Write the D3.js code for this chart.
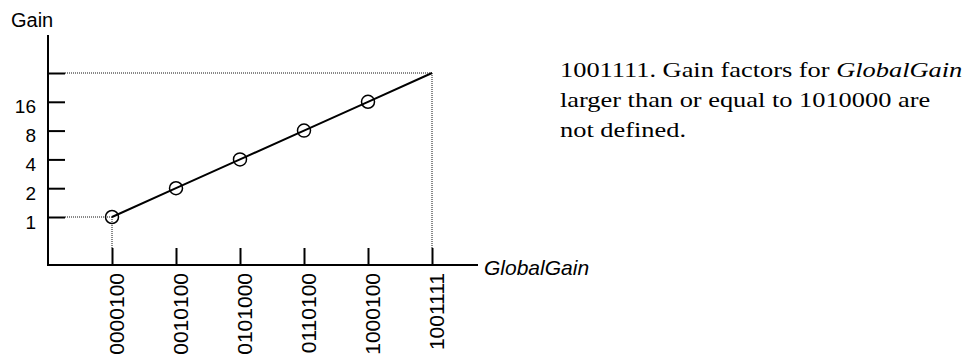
<!DOCTYPE html>
<html>
<head>
<meta charset="utf-8">
<script src="https://cdn.jsdelivr.net/npm/d3@7/dist/d3.min.js"></script>
<style>
  html, body { margin: 0; padding: 0; background: #fff; }
  svg { display: block; }
</style>
</head>
<body>
<svg id="chart" width="971" height="358"></svg>
<script>
// GlobalGain codes along the horizontal axis
const globalGainCodes = ["0000100", "0010100", "0101000", "0110100", "1000100", "1001111"];
// Gain factor reached at each code (log2 axis)
const gainValues = [1, 2, 4, 8, 16, 32];
// Codes drawn with an open circle marker
const markedCodes = ["0000100", "0010100", "0101000", "0110100", "1000100"];
// Vertical axis ticks and their labels
const gainTicks = [1, 2, 4, 8, 16, 32];
const gainTickLabels = ["1", "2", "4", "8", "16", ""];
// Side note
const noteLines = [
  [{ t: "1001111. Gain factors for " }, { t: "GlobalGain", italic: true }],
  [{ t: "larger than or equal to 1010000 are" }],
  [{ t: "not defined." }]
];

const points = globalGainCodes.map((c, i) => ({ code: c, gain: gainValues[i] }));

const svg = d3.select("#chart");
const sans = "'Liberation Sans', Arial, sans-serif";
const serif = "'Liberation Serif', 'Times New Roman', serif";

const axisX = 48, axisY = 265, axisTop = 35, axisRight = 478;

const x = d3.scalePoint().domain(globalGainCodes).range([112, 432]);
const y = d3.scaleLog().base(2).domain([1, 32]).range([217, 73]);

// Dotted guide lines
const guide = svg.append("g")
  .attr("stroke", "#111").attr("stroke-width", 1).attr("stroke-dasharray", "1,1").attr("fill", "none");
const first = points[0], last = points[points.length - 1];
guide.append("line").attr("x1", axisX + 17).attr("x2", x(first.code)).attr("y1", y(first.gain)).attr("y2", y(first.gain));
guide.append("line").attr("x1", x(first.code)).attr("x2", x(first.code)).attr("y1", y(first.gain)).attr("y2", axisY - 17);
guide.append("line").attr("x1", axisX + 17).attr("x2", x(last.code)).attr("y1", y(last.gain)).attr("y2", y(last.gain));
guide.append("line").attr("x1", x(last.code)).attr("x2", x(last.code)).attr("y1", y(last.gain)).attr("y2", axisY - 17);

// Y axis
const yAxis = svg.append("g")
  .attr("transform", `translate(${axisX},0)`)
  .call(d3.axisLeft(y).tickValues(gainTicks).tickFormat((d, i) => gainTickLabels[i]).tickSize(-17).tickPadding(12));
yAxis.select(".domain").remove();
yAxis.selectAll(".tick line").attr("stroke", "#000").attr("stroke-width", 2);
yAxis.selectAll(".tick text")
  .attr("font-family", sans).attr("font-size", 19).attr("fill", "#000")
  .attr("dy", null).attr("y", 11);

svg.append("line").attr("x1", axisX).attr("x2", axisX).attr("y1", axisTop).attr("y2", axisY + 1)
  .attr("stroke", "#000").attr("stroke-width", 2);

// X axis
const xAxis = svg.append("g")
  .attr("transform", `translate(0,${axisY})`)
  .call(d3.axisBottom(x).tickSize(-17));
xAxis.select(".domain").remove();
xAxis.selectAll(".tick line").attr("stroke", "#000").attr("stroke-width", 2);
xAxis.selectAll(".tick text")
  .attr("font-family", sans).attr("font-size", 21).attr("fill", "#000")
  .attr("transform", "rotate(-90)")
  .attr("text-anchor", "end")
  .attr("dy", null)
  .attr("x", -8).attr("y", 11.5);

svg.append("line").attr("x1", axisX - 1).attr("x2", axisRight).attr("y1", axisY).attr("y2", axisY)
  .attr("stroke", "#000").attr("stroke-width", 2);

// Axis titles
svg.append("text").attr("x", 11).attr("y", 27)
  .attr("font-family", sans).attr("font-size", 20).attr("fill", "#000").text("Gain");
svg.append("text").attr("x", 484).attr("y", 275)
  .attr("font-family", sans).attr("font-size", 21).attr("font-style", "italic").attr("fill", "#000").text("GlobalGain");

// Gain curve
svg.append("path").datum(points)
  .attr("fill", "none").attr("stroke", "#000").attr("stroke-width", 2)
  .attr("d", d3.line().x(d => x(d.code)).y(d => y(d.gain)));

svg.append("g").selectAll("circle")
  .data(points.filter(d => markedCodes.includes(d.code)))
  .join("circle")
  .attr("cx", d => x(d.code)).attr("cy", d => y(d.gain)).attr("r", 6.5)
  .attr("fill", "none").attr("stroke", "#000").attr("stroke-width", 1.5);

// Side note text
const note = svg.append("g").attr("transform", "translate(560,0) scale(1.2,1)");
noteLines.forEach((parts, i) => {
  const t = note.append("text").attr("x", 0).attr("y", 77 + i * 30)
    .attr("font-family", serif).attr("font-size", 22).attr("fill", "#000");
  parts.forEach(p => t.append("tspan").attr("font-style", p.italic ? "italic" : null).text(p.t));
});
</script>
</body>
</html>
